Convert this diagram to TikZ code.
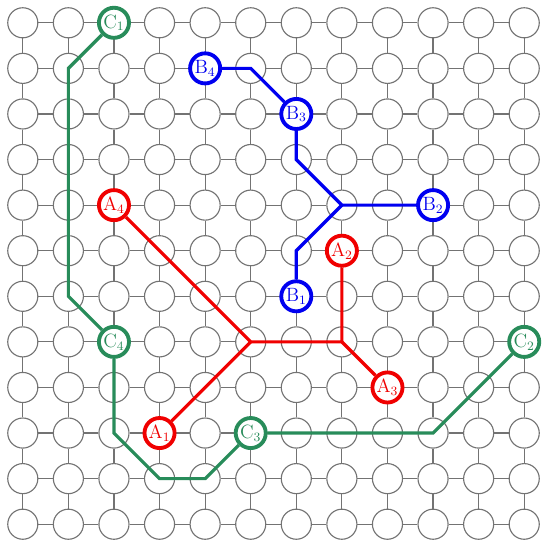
\documentclass[tikz,border=0pt]{standalone}
\usetikzlibrary{backgrounds,positioning}
\definecolor{red}{RGB}{240,0,0}
\definecolor{blue}{RGB}{0,0,240}
\definecolor{green}{RGB}{40,140,90}

\begin{document}
\begin{tikzpicture}[x=1cm,y=-1cm,
  cell/.style={circle,draw=black!55,fill=white,minimum size=6.6mm,inner sep=0pt,line width=0.7pt},
  term/.style={cell,draw=#1,text=#1,line width=2.4pt,font=\large},
  route/.style={line width=2pt}]
\useasboundingbox (-0.5,-0.5) rectangle (11.39,11.37);
% mesh of cells
\foreach \c in {0,...,11}
  \foreach \r in {0,...,11}
    \node[cell] (g-\c-\r) at (\c,\r) {};
\begin{scope}[on background layer]
\foreach \c [count=\n from 1] in {0,...,10}
  \foreach \r in {0,...,11} {
    \draw[black!55,line width=0.7pt] (g-\c-\r) -- (g-\n-\r);
    \draw[black!55,line width=0.7pt] (g-\r-\c) -- (g-\r-\n);
  }
\end{scope}
% terminals
\node[term=red] (A1) at (3,9) {A$_1$};
\node[term=red] (A2) at (7,5) {A$_2$};
\node[term=red] (A3) at (8,8) {A$_3$};
\node[term=red] (A4) at (2,4) {A$_4$};
\node[term=blue] (B1) at (6,6) {B$_1$};
\node[term=blue] (B2) at (9,4) {B$_2$};
\node[term=blue] (B3) at (6,2) {B$_3$};
\node[term=blue] (B4) at (4,1) {B$_4$};
\node[term=green] (C1) at (2,0) {C$_1$};
\node[term=green] (C2) at (11,7) {C$_2$};
\node[term=green] (C3) at (5,9) {C$_3$};
\node[term=green] (C4) at (2,7) {C$_4$};
% routes
\draw[route,red] (A4) -- (g-5-7.center) -- (g-7-7.center) -- (A2);
\draw[route,red] (A1) -- (g-5-7.center);
\draw[route,red] (g-7-7.center) -- (A3);
\draw[route,blue] (B4) -- (g-5-1.center) -- (B3) -- (g-6-3.center) -- (g-7-4.center) -- (B2);
\draw[route,blue] (g-7-4.center) -- (g-6-5.center) -- (B1);
\draw[route,green] (C1) -- (g-1-1.center) -- (g-1-6.center) -- (C4) -- (g-2-9.center)
  -- (g-3-10.center) -- (g-4-10.center) -- (C3) -- (g-9-9.center) -- (C2);
\end{tikzpicture}
\end{document}
